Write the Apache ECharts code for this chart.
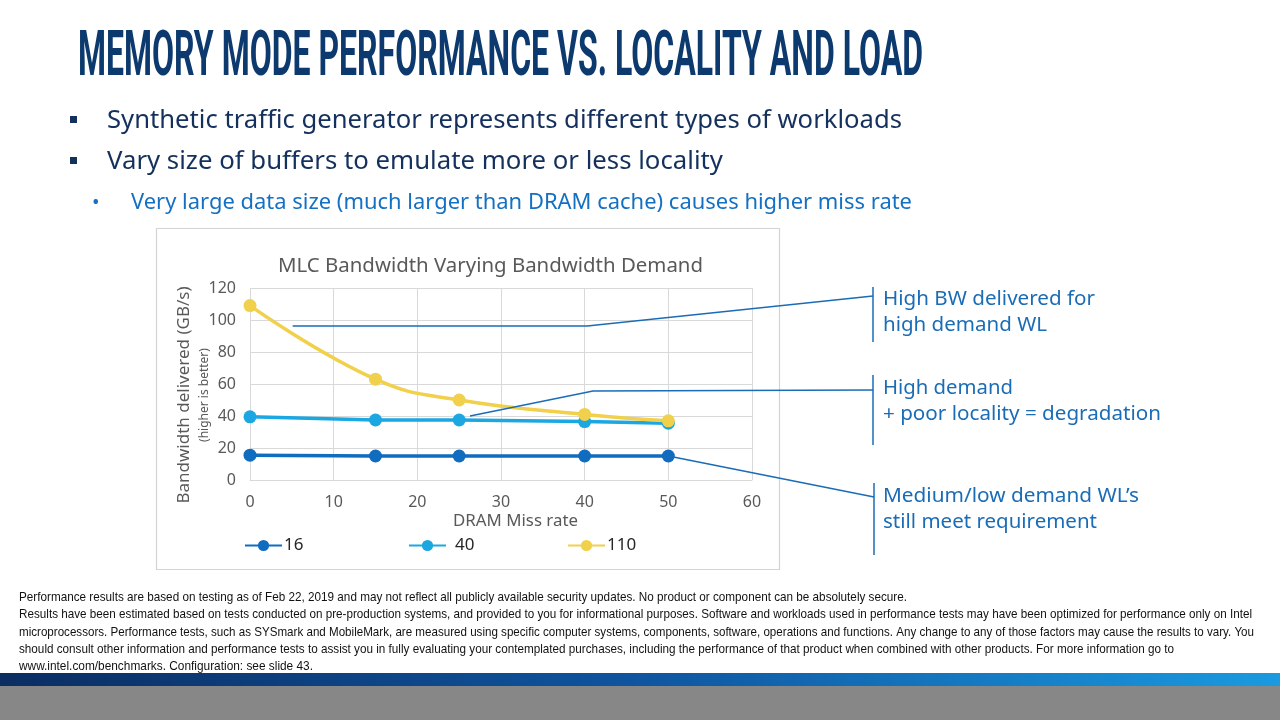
<!DOCTYPE html>
<html><head><meta charset="utf-8">
<script src="https://cdn.jsdelivr.net/npm/echarts@6/dist/echarts.min.js"></script>
<style>html,body{margin:0;padding:0;background:#fff;}#c{width:1280px;height:720px;}</style>
</head><body><div id="c"></div>
<script>
// ---- data ----
const missRate = [0, 15, 25, 40, 50];
const bw16 = [15.5, 15, 15, 15, 15];
const bw40 = [39.5, 37.5, 37.5, 36.5, 35.5];
const bw110 = [109, 63, 50, 41, 37];
const seriesNames = ['16', '40', '110'];
const xTicks = [0, 10, 20, 30, 40, 50, 60];
const yTicks = [0, 20, 40, 60, 80, 100, 120];
const slideTitle = 'MEMORY MODE PERFORMANCE VS. LOCALITY AND LOAD';
const bullets = ['Synthetic traffic generator represents different types of workloads', 'Vary size of buffers to emulate more or less locality'];
const subBullet = 'Very large data size (much larger than DRAM cache) causes higher miss rate';
const chartTitle = 'MLC Bandwidth Varying Bandwidth Demand';
const yName = 'Bandwidth delivered (GB/s)';
const yName2 = '(higher is better)';
const xName = 'DRAM Miss rate';
const notes = [['High BW delivered for', 'high demand WL'], ['High demand', '+ poor locality = degradation'], ['Medium/low demand WL\u2019s', 'still meet requirement']];
const footnote = [
 'Performance results are based on testing as of Feb 22, 2019 and may not reflect all publicly available security updates. No product or component can be absolutely secure.',
 'Results have been estimated based on tests conducted on pre-production systems, and provided to you for informational purposes. Software and workloads used in performance tests may have been optimized for performance only on Intel',
 'microprocessors. Performance tests, such as SYSmark and MobileMark, are measured using specific computer systems, components, software, operations and functions. Any change to any of those factors may cause the results to vary. You',
 'should consult other information and performance tests to assist you in fully evaluating your contemplated purchases, including the performance of that product when combined with other products. For more information go to',
 'www.intel.com/benchmarks. Configuration: see slide 43.'
];
// annotation anchor points in data space
const noteAnchors = [[[5.1, 96.3], [40.3, 96.3]], [[26.3, 40], [41, 55.6]], [[50, 15]]];

// ---- helpers ----
const mctx = document.createElement('canvas').getContext('2d');
function txt(str, x, y, font, fill, targetW, align) {
  mctx.font = font;
  const w = mctx.measureText(str).width;
  const s = targetW ? targetW / w : 1;
  return { type: 'text', x: x, y: y, scaleX: s, silent: true,
    style: { text: str, x: 0, y: 0, font: font, fill: fill, textAlign: align || 'left', verticalAlign: 'middle', textVerticalAlign: 'middle' } };
}
const navy = '#0d3a6e', body = '#14305c', blue2 = '#1470c2', annBlue = '#1a6cb6', grey = '#595959';
const colors = ['#0f6cbf', '#1aa7e2', '#f1d04b'];

const chart = echarts.init(document.getElementById('c'), null, { renderer: 'canvas' });
const seriesData = [bw16, bw40, bw110];
const option = {
  animation: false,
  backgroundColor: '#ffffff',
  grid: { left: 250, right: 528, top: 288, bottom: 240, containLabel: false },
  xAxis: { type: 'value', min: 0, max: 60, interval: 10,
    axisLine: { show: true, lineStyle: { color: '#d9d9d9' } }, axisTick: { show: false },
    splitLine: { show: true, lineStyle: { color: '#d9d9d9' } },
    axisLabel: { color: grey, fontSize: 16, fontFamily: 'Noto Sans', margin: 14,
      formatter: v => xTicks.includes(v) ? String(v) : '' } },
  yAxis: { type: 'value', min: 0, max: 120, interval: 20,
    axisLine: { show: false }, axisTick: { show: false },
    splitLine: { show: true, lineStyle: { color: '#d9d9d9' } },
    axisLabel: { color: grey, fontSize: 16, fontFamily: 'Noto Sans', margin: 14,
      formatter: v => yTicks.includes(v) ? String(v) : '' } },
  legend: seriesNames.map((n, i) => ({ data: [n], left: [239, 403, 562][i], top: 532, itemWidth: 37, itemHeight: 14, itemGap: 0,
    textStyle: { color: '#262626', fontSize: 17, fontFamily: 'Noto Sans', padding: [0, 0, 0, [-3, 4, -3][i]] } })),
  series: seriesNames.map((n, i) => ({
    name: n, type: 'line', smooth: i === 2 ? 0.45 : false,
    data: missRate.map((x, j) => [x, seriesData[i][j]]),
    symbol: 'circle', symbolSize: 13, z: 3 + i,
    lineStyle: { color: colors[i], width: 3.5 }, itemStyle: { color: colors[i] }
  }))
};
chart.setOption(option);

// ---- graphics ----
const P = p => chart.convertToPixel({ gridIndex: 0 }, p);
const g = [];
// chart frame
g.push({ type: 'rect', shape: { x: 156.5, y: 228.5, width: 623, height: 341 }, style: { fill: 'none', stroke: '#d4d4d4', lineWidth: 1.2 }, z: -1, silent: true });
// title
g.push(txt(slideTitle, 78, 59, 'bold 63px Roboto', navy, 845));
// bullets
g.push({ type: 'rect', shape: { x: 70, y: 116, width: 7, height: 7 }, style: { fill: body } });
g.push({ type: 'rect', shape: { x: 70, y: 157, width: 7, height: 7 }, style: { fill: body } });
g.push(txt(bullets[0], 107, 121, '25px "Noto Sans"', body, 795));
g.push(txt(bullets[1], 107, 162, '25px "Noto Sans"', body, 616));
g.push(txt('\u2022', 92, 203, '20px "Noto Sans"', blue2));
g.push(txt(subBullet, 131, 203, '21px "Noto Sans"', blue2, 781));
// chart texts
g.push(txt(chartTitle, 278, 267, '19px "Noto Sans"', grey, 425));
g.push({ type: 'text', x: 184, y: 395, rotation: Math.PI / 2, silent: true,
  style: { text: yName, x: 0, y: 0, font: '17px "Noto Sans"', fill: grey, textAlign: 'center', verticalAlign: 'middle' } });
g.push({ type: 'text', x: 205, y: 395, rotation: Math.PI / 2, silent: true,
  style: { text: yName2, x: 0, y: 0, font: '12px "Noto Sans"', fill: grey, textAlign: 'center', verticalAlign: 'middle' } });
g.push(txt(xName, 453, 521, '16px "Noto Sans"', grey, 125));
// annotations
const ends = [[873, 296], [873, 390], [874, 497]];
const bars = [[287, 342], [375, 445], [483, 555]];
noteAnchors.forEach((pts, i) => {
  const pix = pts.map(P).concat([ends[i]]);
  g.push({ type: 'polyline', shape: { points: pix }, style: { stroke: annBlue, lineWidth: 1.5, fill: 'none' }, z: 10, silent: true });
  g.push({ type: 'line', shape: { x1: ends[i][0], y1: bars[i][0], x2: ends[i][0], y2: bars[i][1] }, style: { stroke: annBlue, lineWidth: 1.5 }, z: 10, silent: true });
});
const noteY = [[299, 325], [388, 414], [496, 522]];
const noteW = [[212, 164], [130, 278], [256, 214]];
notes.forEach((ls, i) => ls.forEach((l, j) => g.push(txt(l, 883, noteY[i][j], '20px "Noto Sans"', annBlue, noteW[i][j]))));
// footnote
const fnY = [597, 614, 632, 649, 666];
const fnW = [888, 1233, 1235, 1155, 294];
footnote.forEach((l, i) => g.push(txt(l, 19, fnY[i], '13.5px "Liberation Sans"', '#111111', fnW[i])));
// bottom bar
g.push({ type: 'rect', shape: { x: 0, y: 673, width: 1280, height: 14 }, silent: true,
  style: { fill: new echarts.graphic.LinearGradient(0, 0, 1, 0, [{ offset: 0, color: '#0b2d62' }, { offset: 0.5, color: '#0f559f' }, { offset: 1, color: '#1a9ae0' }]) } });
g.push({ type: 'rect', shape: { x: 0, y: 686, width: 1280, height: 34 }, style: { fill: '#878787' }, silent: true });
chart.setOption({ graphic: { elements: g } });
</script></body></html>
